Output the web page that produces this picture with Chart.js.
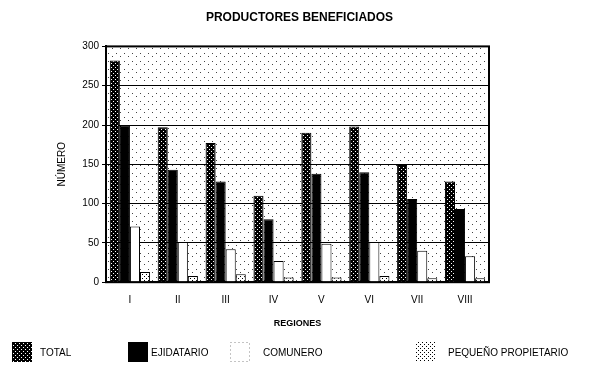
<!DOCTYPE html>
<html>
<head>
<meta charset="utf-8">
<script src="https://cdn.jsdelivr.net/npm/chart.js@4.4.1/dist/chart.umd.min.js"></script>
<style>
  html, body { margin: 0; padding: 0; background: #ffffff; }
  #wrap { width: 599px; height: 375px; }
</style>
</head>
<body>
<div id="wrap"><canvas id="bar_chart"></canvas></div>
<script>
const regiones = ["I", "II", "III", "IV", "V", "VI", "VII", "VIII"]
const total = [282, 197, 177, 110, 190, 198, 149, 128]
const ejidatario = [199, 143, 128, 80, 138, 140, 106, 93]
const comunero = [71, 51, 42, 27, 49, 51, 40, 33]
const pequenoPropietario = [13, 8, 10, 6, 6, 8, 5, 5]
const yTicks = [0, 50, 100, 150, 200, 250, 300]

// small canvas tiles used as fills
function makePattern(size, draw) {
  const c = document.createElement("canvas")
  c.width = size
  c.height = size
  const ctx = c.getContext("2d")
  draw(ctx)
  return ctx.createPattern(c, "repeat")
}

const totalFill = makePattern(4, (ctx) => {
  ctx.fillStyle = "#000000"
  ctx.fillRect(0, 0, 4, 4)
  ctx.fillStyle = "#ffffff"
  ctx.fillRect(1, 1, 1, 1)
  ctx.fillRect(3, 3, 1, 1)
})

const pequenoFill = makePattern(4, (ctx) => {
  ctx.fillStyle = "#ffffff"
  ctx.fillRect(0, 0, 4, 4)
  ctx.fillStyle = "#000000"
  ctx.fillRect(0, 0, 1, 1)
  ctx.fillRect(2, 2, 1, 1)
})

const backFill = makePattern(8, (ctx) => {
  ctx.fillStyle = "#ffffff"
  ctx.fillRect(0, 0, 8, 8)
  ctx.fillStyle = "#444444"
  ctx.fillRect(0, 0, 1, 1)
  ctx.fillRect(4, 5, 1, 1)
})

const font = "'Liberation Sans', Arial, sans-serif"

const plotBackground = {
  id: "plotBackground",
  beforeDraw(chart) {
    const { ctx, chartArea } = chart
    ctx.save()
    ctx.fillStyle = backFill
    ctx.fillRect(chartArea.left, chartArea.top, chartArea.width, chartArea.height)
    ctx.restore()
  },
  afterDraw(chart) {
    const { ctx, chartArea } = chart
    ctx.save()
    ctx.strokeStyle = "#000000"
    ctx.lineWidth = 2
    ctx.strokeRect(chartArea.left, chartArea.top, chartArea.width, chartArea.height)
    ctx.restore()
  },
}

// legend drawn by hand so each entry can sit at its own spot
const looseLegend = {
  id: "looseLegend",
  afterDraw(chart, args, opts) {
    const { ctx } = chart
    ctx.save()
    ctx.font = `${opts.fontSize}px ${font}`
    ctx.textBaseline = "middle"
    chart.data.datasets.forEach((ds, i) => {
      const x = opts.boxX[i]
      const y = opts.y
      ctx.fillStyle = ds.backgroundColor
      ctx.fillRect(x, y - 10, 20, 20)
      if (i === 2) {
        ctx.strokeStyle = "#888888"
        ctx.setLineDash([1, 3])
        ctx.lineWidth = 1
        ctx.strokeRect(x + 0.5, y - 9.5, 19, 19)
        ctx.setLineDash([])
      }
      ctx.fillStyle = "#000000"
      ctx.fillText(ds.label, opts.textX[i], y + 1)
    })
    ctx.restore()
  },
}

new Chart(document.getElementById("bar_chart"), {
  type: "bar",
  plugins: [plotBackground, looseLegend],
  data: {
    labels: regiones,
    datasets: [
      {
        label: "TOTAL",
        data: total,
        backgroundColor: totalFill,
        borderColor: "#000000",
        borderWidth: 1,
      },
      {
        label: "EJIDATARIO",
        data: ejidatario,
        backgroundColor: "#000000",
        borderColor: "#000000",
        borderWidth: 1,
      },
      {
        label: "COMUNERO",
        data: comunero,
        backgroundColor: "#ffffff",
        borderColor: "#000000",
        borderWidth: 1,
      },
      {
        label: "PEQUEÑO PROPIETARIO",
        data: pequenoPropietario,
        backgroundColor: pequenoFill,
        borderColor: "#000000",
        borderWidth: 1,
      },
    ],
  },
  options: {
    responsive: true,
    maintainAspectRatio: false,
    devicePixelRatio: 1,
    animation: false,
    layout: {
      padding: { left: 0, right: 0, top: 0, bottom: 46 },
    },
    datasets: {
      bar: {
        categoryPercentage: 0.84,
        barPercentage: 1.0,
      },
    },
    scales: {
      x: {
        grid: { display: false },
        border: { color: "#000000", width: 2 },
        ticks: {
          color: "#000000",
          font: { family: font, size: 10 },
          padding: 4,
        },
        title: {
          display: true,
          text: "REGIONES",
          color: "#000000",
          font: { family: font, size: 9, weight: "bold" },
          padding: { top: 8, bottom: 0 },
        },
      },
      y: {
        min: 0,
        max: 300,
        afterBuildTicks(axis) {
          axis.ticks = yTicks.map((v) => ({ value: v }))
        },
        afterFit(axis) {
          axis.width = 106
        },
        grid: {
          color: "#000000",
          lineWidth: 1,
          drawTicks: true,
          tickLength: 4,
        },
        border: { color: "#000000", width: 2 },
        ticks: {
          color: "#000000",
          font: { family: font, size: 10 },
          padding: 3,
        },
        title: {
          display: true,
          text: "NÚMERO",
          color: "#000000",
          font: { family: font, size: 10 },
          padding: { top: 56, bottom: 0 },
        },
      },
      // empty axis that only keeps the right margin
      spacer: {
        axis: "y",
        position: "right",
        display: true,
        grid: { display: false, drawTicks: false },
        border: { display: false },
        ticks: { display: false },
        afterFit(axis) {
          axis.width = 110
        },
      },
    },
    plugins: {
      title: {
        display: true,
        text: "PRODUCTORES BENEFICIADOS",
        color: "#000000",
        font: { family: font, size: 12, weight: "bold" },
        padding: { top: 10, bottom: 22 },
      },
      legend: { display: false },
      tooltip: { enabled: false },
      looseLegend: {
        y: 352,
        fontSize: 10,
        boxX: [12, 128, 230, 415],
        textX: [40, 151, 263, 448],
      },
    },
  },
})
</script>
</body>
</html>
